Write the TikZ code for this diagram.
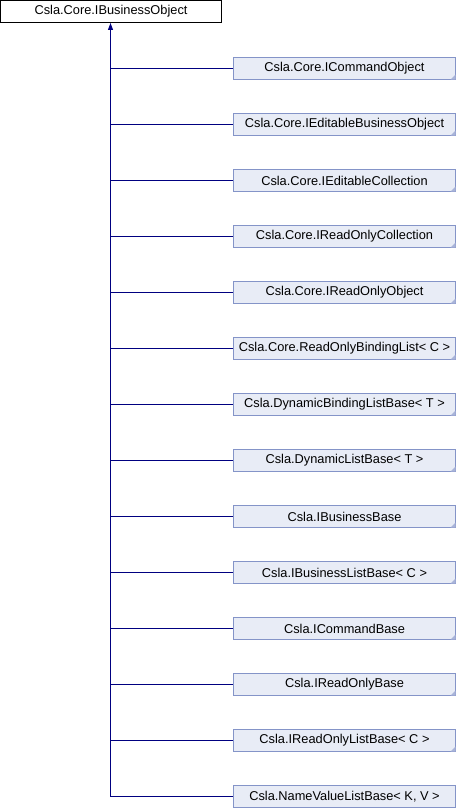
\documentclass[tikz,border=0pt]{standalone}
\usepackage{fontspec}
\setmainfont{Liberation Sans}
\usetikzlibrary{arrows.meta}
\definecolor{navyline}{RGB}{0,0,128}
\definecolor{boxfill}{RGB}{232,236,246}
\definecolor{boxborder}{RGB}{132,148,200}
\tikzset{
  basebox/.style={draw=black, fill=white, line width=1pt, minimum width=221pt, minimum height=22pt, inner sep=0pt, font=\fontsize{12.8}{14}\selectfont},
  childbox/.style={draw=boxborder, fill=boxfill, line width=1pt, minimum width=222pt, minimum height=22pt, inner sep=0pt, font=\fontsize{12.8}{14}\selectfont},
  inherit/.style={draw=navyline, color=navyline, line width=1pt},
  fold/.style={fill=boxborder!70!white, draw=none}
}
\begin{document}
\begin{tikzpicture}[x=1pt,y=-1pt]
\useasboundingbox (0,0) rectangle (456,808);
\node[basebox] (top) at (111,11.5) {Csla.Core.IBusinessObject};
\foreach \i/\t in {
 1/{Csla.Core.ICommandObject},
 2/{Csla.Core.IEditableBusinessObject},
 3/{Csla.Core.IEditableCollection},
 4/{Csla.Core.IReadOnlyCollection},
 5/{Csla.Core.IReadOnlyObject},
 6/{Csla.Core.ReadOnlyBindingList< C >},
 7/{Csla.DynamicBindingListBase< T >},
 8/{Csla.DynamicListBase< T >},
 9/{Csla.IBusinessBase},
 10/{Csla.IBusinessListBase< C >},
 11/{Csla.ICommandBase},
 12/{Csla.IReadOnlyBase},
 13/{Csla.IReadOnlyListBase< C >},
 14/{Csla.NameValueListBase< K, V >}}{
  \node[childbox] (c\i) at (344.5,{12.5+56*\i}) {\t};
}
\foreach \i in {1,...,13}{
  \fill[fold] (c\i.south east) ++(-0.5,-0.5) -- ++(0,-5) -- ++(-5,5) -- cycle;
}
\coordinate (trunk) at ([xshift=-0.5pt]top.south);
\draw[inherit, {Triangle[length=7pt,width=5pt]}-] (trunk) -- (trunk |- c14.west) -- (c14.west);
\foreach \i in {1,...,13}{
  \draw[inherit] (trunk |- c\i.west) -- (c\i.west);
}
\end{tikzpicture}
\end{document}
